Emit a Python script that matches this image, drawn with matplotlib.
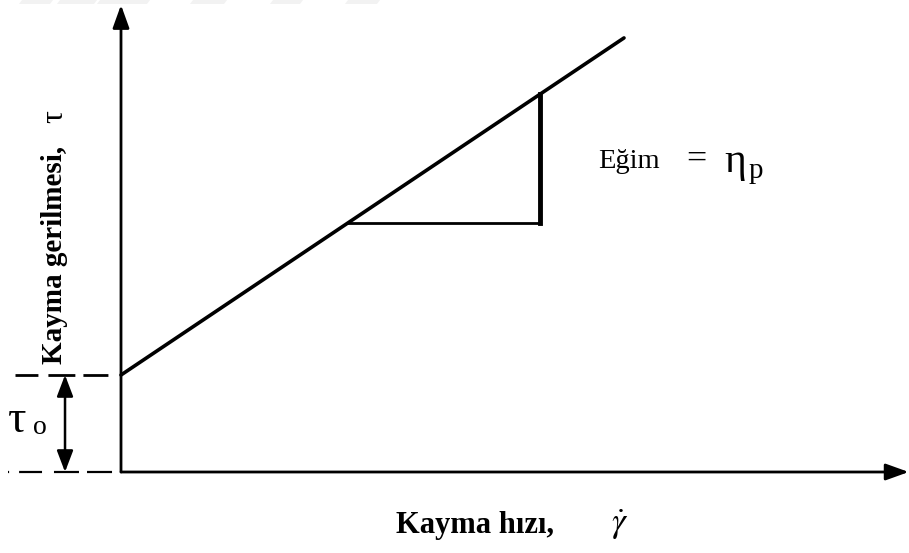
import matplotlib
matplotlib.use("Agg")
import matplotlib.pyplot as plt
from matplotlib.patches import Polygon

plt.rcParams['font.family'] = ['Liberation Serif', 'DejaVu Serif']
plt.rcParams['mathtext.fontset'] = 'stix'
plt.rcParams['lines.scale_dashes'] = False

# Bingham plastic model: tau = tau0 + eta_p * gamma_dot
tau0 = 2.0
eta_p = 0.695
gamma_line = [0.0, 10.0]
tau_line = [tau0 + eta_p * g for g in gamma_line]

# slope triangle between these shear rates
gamma_tri = [4.5, 8.33]

# axis extents (arrow tips)
gamma_axis_end = 15.66
tau_axis_end = 9.63

W, H = 909, 553
fig = plt.figure(figsize=(W / 100, H / 100), dpi=100)
ax = fig.add_axes([0, 0, 1, 1])
ax.set_xlim(-121 / 50.3, (W - 121) / 50.3)
ax.set_ylim(-(H - 472) / 48.5, 472 / 48.5)
ax.axis('off')

k = 'black'

# faint band along the top edge
for x0, x1 in [(22, 53), (60, 97), (100, 150), (193, 227), (273, 303), (348, 380)]:
    poly = Polygon([(x0 / W, 1), (x1 / W, 1), ((x1 - 3) / W, 1 - 4 / H), ((x0 - 3) / W, 1 - 4 / H)],
                   closed=True, transform=fig.transFigure, color='#f2f2f2', lw=0)
    fig.patches.append(poly)

# axes with arrowheads
axis_arrow = dict(arrowstyle='-|>,head_length=1.0,head_width=0.36', mutation_scale=14,
                  lw=2.0, color=k, shrinkA=0, shrinkB=0)
ax.annotate('', xy=(gamma_axis_end, 0), xytext=(0, 0), arrowprops=axis_arrow)
ax.annotate('', xy=(0, tau_axis_end), xytext=(0, 0), arrowprops=axis_arrow)

# flow curve
ax.plot(gamma_line, tau_line, color=k, lw=2.6, solid_capstyle='round')

# slope triangle
t_lo = tau0 + eta_p * gamma_tri[0]
t_hi = tau0 + eta_p * gamma_tri[1]
ax.plot([gamma_tri[0], gamma_tri[1]], [t_lo, t_lo], color=k, lw=2.0)
ax.plot([gamma_tri[1], gamma_tri[1]], [t_lo, t_hi], color=k, lw=3.5, solid_capstyle='projecting')

# yield stress guides
ax.plot([-2.107, 0], [tau0, tau0], color=k, lw=2.0,
        dashes=(16.5, 7.2, 19.4, 5.8, 18, 9.4))
ax.plot([-2.25, 0], [0, 0], color=k, lw=1.6,
        dashes=(0.8, 7.2, 16.5, 8.6, 18, 5.8, 18, 10))
dbl = dict(arrowstyle='<|-|>,head_length=1.0,head_width=0.38', mutation_scale=13,
           lw=1.8, color=k, shrinkA=0, shrinkB=0)
ax.annotate('', xy=(-1.113, tau0), xytext=(-1.113, 0), arrowprops=dbl)


def fx(px):
    return px / W


def fy(py):
    return 1 - py / H


# labels
fig.text(fx(396), fy(525), 'Kayma hızı,', fontsize=22, fontweight='bold', ha='left', va='center')
fig.text(fx(620), fy(525), r'$\dot{\gamma}$', fontsize=25, ha='center', va='center')

fig.text(fx(55), fy(364), 'Kayma gerilmesi,', fontsize=21, fontweight='bold',
         rotation=90, ha='center', va='bottom')
fig.text(fx(55), fy(117), 'τ', fontsize=23, rotation=90, ha='center', va='center')

fig.text(fx(8), fy(421), 'τ', fontsize=33, ha='left', va='center')
fig.text(fx(33), fy(428), 'o', fontsize=20, ha='left', va='center')

fig.text(fx(598), fy(162), 'Eğim', fontsize=20.5, ha='left', va='center')
fig.text(fx(686), fy(160), '=', fontsize=26, ha='left', va='center')
fig.text(fx(724), fy(162), 'η', fontsize=30, ha='left', va='center')
fig.text(fx(749), fy(171), 'p', fontsize=21, ha='left', va='center')

fig.savefig('out.png', dpi=100)
